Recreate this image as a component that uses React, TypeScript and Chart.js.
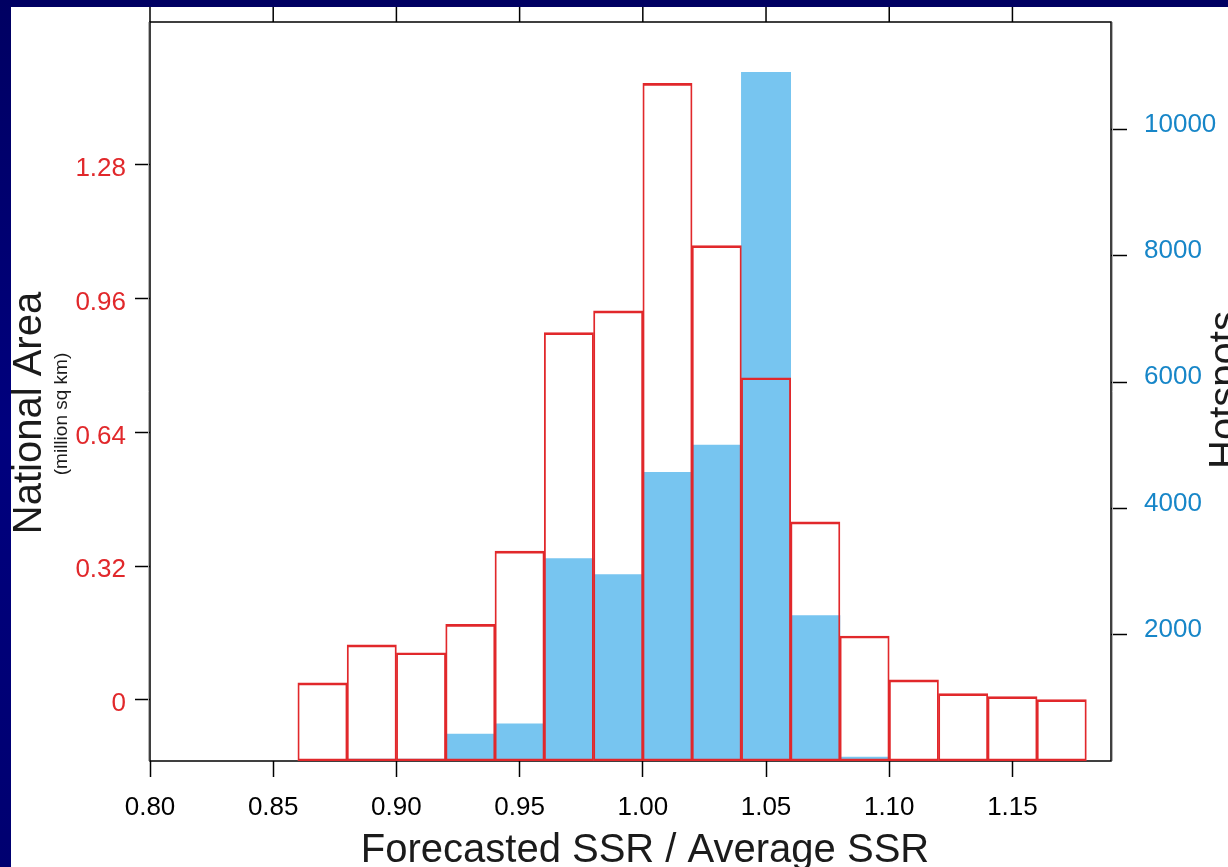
import React, { useEffect, useRef } from "react";
import { Chart, registerables } from "chart.js";

Chart.register(...registerables);

// Histogram bins: lower edge of each 0.02-wide bin of forecasted/average SSR
const BIN_LO = [0.86, 0.88, 0.9, 0.92, 0.94, 0.96, 0.98, 1.0, 1.02, 1.04, 1.06, 1.08, 1.1, 1.12, 1.14, 1.16];
const BIN_WIDTH = 0.02;

// National area per bin (million sq km), left axis
const NATIONAL_AREA = [0.041, 0.132, 0.113, 0.181, 0.356, 0.879, 0.931, 1.475, 1.087, 0.771, 0.426, 0.153, 0.048, 0.015, 0.008, 0.001];

// Hotspot counts per bin, right axis
const HOTSPOTS = [0, 32, 32, 428, 587, 3206, 2952, 4571, 5000, 10903, 2301, 63, 15, 0, 0, 0];

// Axis ranges and ticks
const X_RANGE = [0.8, 1.19];
const X_TICKS = [0.8, 0.85, 0.9, 0.95, 1.0, 1.05, 1.1, 1.15];
const X_TICK_LABELS = ["0.80", "0.85", "0.90", "0.95", "1.00", "1.05", "1.10", "1.15"];

const AREA_RANGE = [-0.146, 1.622];
const AREA_TICKS = [0, 0.32, 0.64, 0.96, 1.28];
const AREA_TICK_LABELS = ["0", "0.32", "0.64", "0.96", "1.28"];

const HOTSPOT_RANGE = [0, 11700];
const HOTSPOT_TICKS = [2000, 4000, 6000, 8000, 10000];
const HOTSPOT_TICK_LABELS = ["2000", "4000", "6000", "8000", "10000"];

const FONT = '"Liberation Sans", Arial, Helvetica, sans-serif';
const RED = "#E1282B";
const BLUE_TEXT = "#1786C8";
const BLUE_FILL = "#77C5F0";
const INK = "#1b1b1b";

const W = 1228;
const H = 867;

const framePlugin = {
  id: "slideFrame",
  beforeDraw(chart: any) {
    const { ctx } = chart;
    ctx.save();
    const g = ctx.createLinearGradient(0, 0, 0, H);
    g.addColorStop(0, "#000062");
    g.addColorStop(0.5, "#00007e");
    g.addColorStop(1, "#000070");
    ctx.fillStyle = g;
    ctx.fillRect(0, 0, W, H);
    ctx.fillStyle = "#ffffff";
    ctx.fillRect(11, 7, W - 11, H - 7);
    ctx.restore();
  },
  beforeDatasetsDraw(chart: any) {
    const { ctx, chartArea } = chart;
    const { left, top, right, bottom } = chartArea;
    const x = chart.scales.x;
    ctx.save();
    // soft grey shadow beside the side borders
    ctx.strokeStyle = "#b5b5b5";
    ctx.lineWidth = 1;
    ctx.beginPath();
    ctx.moveTo(left - 1.5, top);
    ctx.lineTo(left - 1.5, bottom);
    ctx.moveTo(right + 1.5, top);
    ctx.lineTo(right + 1.5, bottom);
    ctx.stroke();
    // plot frame
    ctx.strokeStyle = "#000";
    ctx.lineWidth = 1.5;
    ctx.strokeRect(left, top, right - left, bottom - top);
    // tick marks above the frame
    ctx.beginPath();
    X_TICKS.forEach((v) => {
      const px = x.getPixelForValue(v);
      ctx.moveTo(px, 7);
      ctx.lineTo(px, top);
    });
    ctx.stroke();
    ctx.restore();
  },
  afterDraw(chart: any) {
    const { ctx } = chart;
    ctx.save();
    ctx.fillStyle = INK;
    ctx.textAlign = "center";

    ctx.font = `40px ${FONT}`;
    ctx.textBaseline = "alphabetic";
    ctx.save();
    ctx.translate(41, 413);
    ctx.rotate(-Math.PI / 2);
    ctx.fillText("National Area", 0, 0);
    ctx.restore();

    ctx.font = `19px ${FONT}`;
    ctx.textBaseline = "middle";
    ctx.save();
    ctx.translate(62, 414);
    ctx.rotate(-Math.PI / 2);
    ctx.fillText("(million sq km)", 0, 0);
    ctx.restore();

    ctx.font = `40px ${FONT}`;
    ctx.textBaseline = "alphabetic";
    ctx.save();
    ctx.translate(1237, 390);
    ctx.rotate(-Math.PI / 2);
    ctx.fillText("Hotspots", 0, 0);
    ctx.restore();

    ctx.fillText("Forecasted SSR / Average SSR", 645, 862);
    ctx.restore();
  },
};

// keep the plot box exactly where the axis widths put it
const noEdgePadding = (s: any) => {
  s.paddingTop = 0;
  s.paddingBottom = 0;
  s.paddingLeft = 0;
  s.paddingRight = 0;
};

export default function App() {
  const canvasRef = useRef<HTMLCanvasElement | null>(null);

  useEffect(() => {
    const canvas = canvasRef.current;
    if (!canvas) return;

    const centers = BIN_LO.map((lo) => lo + BIN_WIDTH / 2);

    const chart = new Chart(canvas, {
      type: "bar",
      data: {
        datasets: [
          {
            label: "National Area",
            data: centers.map((c, i) => ({ x: c, y: NATIONAL_AREA[i] })),
            yAxisID: "yArea",
            xAxisID: "x",
            backgroundColor: "rgba(0,0,0,0)",
            borderColor: RED,
            borderWidth: { top: 2, bottom: 2, left: 1.2, right: 1.2 },
            borderSkipped: false,
            base: AREA_RANGE[0],
            grouped: false,
            barPercentage: 1,
            categoryPercentage: 1,
          } as any,
          {
            label: "Hotspots",
            data: centers.map((c, i) => ({ x: c, y: HOTSPOTS[i] })),
            yAxisID: "yHot",
            xAxisID: "x",
            backgroundColor: BLUE_FILL,
            borderWidth: 0,
            grouped: false,
            barPercentage: 1,
            categoryPercentage: 1,
          } as any,
        ],
      },
      options: {
        responsive: false,
        animation: false,
        devicePixelRatio: 1,
        layout: { padding: { top: 22, left: 0, right: 0, bottom: 0 } },
        plugins: {
          legend: { display: false },
          tooltip: { enabled: false },
        },
        scales: {
          x: {
            type: "linear",
            position: "bottom",
            min: X_RANGE[0],
            max: X_RANGE[1],
            offset: false,
            afterBuildTicks: (s: any) => {
              s.ticks = X_TICKS.map((v) => ({ value: v }));
            },
            afterFit: (s: any) => {
              s.height = 106;
              noEdgePadding(s);
            },
            ticks: {
              autoSkip: false,
              maxRotation: 0,
              minRotation: 0,
              padding: 15,
              color: "#000",
              font: { family: FONT, size: 26 },
              callback: (_v: any, i: number) => X_TICK_LABELS[i],
            },
            grid: {
              offset: false,
              drawOnChartArea: false,
              drawTicks: true,
              tickLength: 16,
              tickColor: "#000",
              tickWidth: 1.5,
            },
            border: { display: false },
          },
          yArea: {
            type: "linear",
            position: "left",
            min: AREA_RANGE[0],
            max: AREA_RANGE[1],
            afterBuildTicks: (s: any) => {
              s.ticks = AREA_TICKS.map((v) => ({ value: v }));
            },
            afterFit: (s: any) => {
              s.width = 150;
              noEdgePadding(s);
            },
            ticks: {
              padding: 9,
              labelOffset: 4,
              color: RED,
              font: { family: FONT, size: 26 },
              callback: (_v: any, i: number) => AREA_TICK_LABELS[i],
            },
            grid: {
              drawOnChartArea: false,
              drawTicks: true,
              tickLength: 15,
              tickColor: "#000",
              tickWidth: 1.5,
            },
            border: { display: false },
          },
          yHot: {
            type: "linear",
            position: "right",
            min: HOTSPOT_RANGE[0],
            max: HOTSPOT_RANGE[1],
            afterBuildTicks: (s: any) => {
              s.ticks = HOTSPOT_TICKS.map((v) => ({ value: v }));
            },
            afterFit: (s: any) => {
              s.width = 117;
              noEdgePadding(s);
            },
            ticks: {
              padding: 17,
              labelOffset: -5,
              color: BLUE_TEXT,
              font: { family: FONT, size: 26 },
              callback: (_v: any, i: number) => HOTSPOT_TICK_LABELS[i],
            },
            grid: {
              drawOnChartArea: false,
              drawTicks: true,
              tickLength: 16,
              tickColor: "#000",
              tickWidth: 1.5,
            },
            border: { display: false },
          },
        } as any,
      },
      plugins: [framePlugin],
    });

    return () => chart.destroy();
  }, []);

  return (
    <div style={{ position: "fixed", left: 0, top: 0, width: W, height: H, overflow: "hidden" }}>
      <canvas ref={canvasRef} width={W} height={H} style={{ display: "block", width: W, height: H }} />
    </div>
  );
}
